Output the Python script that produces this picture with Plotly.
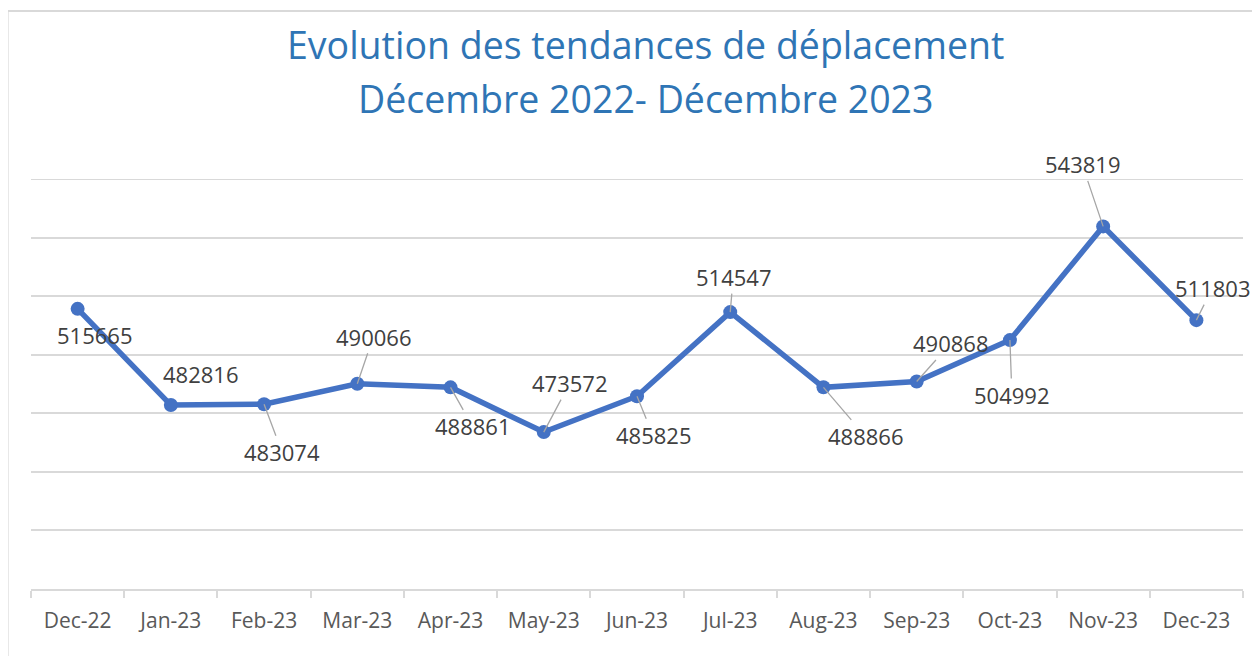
import plotly.graph_objects as go

# ---- data ----
months = ["Dec-22", "Jan-23", "Feb-23", "Mar-23", "Apr-23", "May-23", "Jun-23",
          "Jul-23", "Aug-23", "Sep-23", "Oct-23", "Nov-23", "Dec-23"]
trips = [515665, 482816, 483074, 490066, 488861, 473572, 485825,
         514547, 488866, 490868, 504992, 543819, 511803]
title_line1 = "Evolution des tendances de déplacement"
title_line2 = "Décembre 2022- Décembre 2023"
y_min, y_max, y_step = 420000, 560000, 20000

# ---- label placement (pixel offsets from the point) ----
label_dx = [17, 30, 18, 16, 22, 26, 16, 3, 42, 34, 2, -21, 16]
label_dy = [26, -31, 48, -47, 39, -49, 39, -35, 49, -38, 55, -62, -32]
leader = [False, False, True, True, True, True, True, True, True, True, True, True, True]

FONT = "Open Sans"
BLUE = "#4472C4"
GRID = "#D9D9D9"

fig = go.Figure()
fig.add_trace(go.Scatter(
    x=months, y=trips, mode="lines+markers",
    line=dict(color=BLUE, width=5.5),
    marker=dict(color=BLUE, size=14),
    hoverinfo="x+y", showlegend=False,
))

annotations = []
for m, v, dx, dy, ld in zip(months, trips, label_dx, label_dy, leader):
    if ld:
        annotations.append(dict(
            x=m, y=v, xref="x", yref="y", text=str(v),
            showarrow=True, ax=dx, ay=dy, arrowhead=0, arrowwidth=1.3,
            arrowcolor="#A6A6A6", standoff=0,
            font=dict(family=FONT, size=22, color="#404040"),
        ))
    else:
        annotations.append(dict(
            x=m, y=v, xref="x", yref="y", text=str(v),
            showarrow=False, xshift=dx, yshift=-dy,
            font=dict(family=FONT, size=22, color="#404040"),
        ))

# title (two lines)
annotations.append(dict(
    text=title_line1, xref="paper", yref="paper", x=0.5074, y=1.329,
    xanchor="center", yanchor="middle", showarrow=False,
    font=dict(family=FONT, size=37.5, color="#2F75B5"),
))
annotations.append(dict(
    text=title_line2, xref="paper", yref="paper", x=0.5074, y=1.196,
    xanchor="center", yanchor="middle", showarrow=False,
    font=dict(family=FONT, size=37.5, color="#2F75B5"),
))

fig.update_layout(
    width=1260, height=656,
    margin=dict(l=23, r=25, t=171, b=75),
    paper_bgcolor="white", plot_bgcolor="white",
    annotations=annotations,
    shapes=[
        dict(type="rect", xref="paper", yref="paper",
             x0=-0.0193, x1=1.1, y0=-0.4, y1=1.41,
             line=dict(color=GRID, width=2), layer="below"),
        dict(type="line", xref="paper", yref="y",
             x0=0, x1=1, y0=y_max, y1=y_max,
             line=dict(color=GRID, width=2), layer="below"),
    ],
    font=dict(family=FONT),
)
fig.update_xaxes(
    type="category", range=[-0.5, len(months) - 0.5],
    showgrid=False, showline=True, linecolor=GRID, linewidth=2,
    ticks="outside", tickson="boundaries", ticklen=7, tickwidth=2, tickcolor=GRID,
    tickfont=dict(family=FONT, size=21, color="#595959"),
    ticklabelstandoff=12,
)
fig.update_yaxes(
    range=[y_min - 10, y_max + 10], dtick=y_step, tick0=y_min,
    showgrid=True, gridcolor=GRID, gridwidth=2,
    showticklabels=False, zeroline=False, showline=False,
)

fig.write_html("out.html")
